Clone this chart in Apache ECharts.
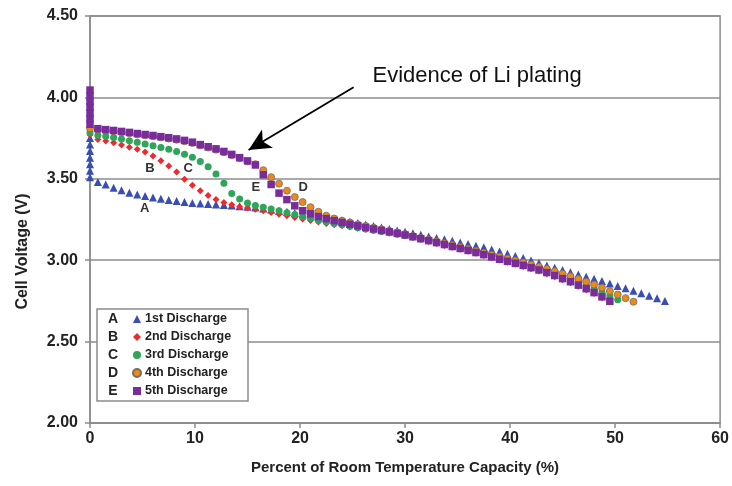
<!DOCTYPE html>
<html><head><meta charset="utf-8">
<script src="https://cdn.jsdelivr.net/npm/echarts@6/dist/echarts.min.js"></script>
<style>html,body{margin:0;padding:0;background:#fff}#c{width:732px;height:486px}</style>
</head><body><div id="c"></div>
<script>
// Shared capacity grid (% of room temperature capacity)
const capacity = [0.75,1.5,2.25,3,3.75,4.5,5.25,6,6.75,7.5,8.25,9,9.75,10.5,11.25,12,12.75,13.5,14.25,15,
  15.75,16.5,17.25,18,18.75,19.5,20.25,21,21.75,22.5,23.25,24,24.75,25.5,26.25,27,27.75,28.5,29.25,30,
  30.75,31.5,32.25,33,33.75,34.5,35.25,36,36.75,37.5,38.25,39,39.75,40.5,41.25,42,42.75,43.5,44.25,45,
  45.75,46.5,47.25,48,48.75,49.5,50.25,51,51.75,52.5,53.25,54,54.75];

// Rest voltages at 0 % capacity
const restA = [3.51,3.55,3.59,3.63,3.67,3.71,3.75];
const restB = [3.77];
const restC = [3.785];
const restD = [3.81];
const restE = [3.835,3.87,3.905,3.94,3.975,4.01,4.045];

// Cell voltage (V) per discharge
const v1st = [3.48,3.465,3.445,3.43,3.415,3.403,3.394,3.385,3.377,3.37,
  3.363,3.357,3.352,3.348,3.345,3.342,3.339,3.336,3.332,3.328,
  3.323,3.317,3.311,3.304,3.297,3.29,3.283,3.276,3.268,3.26,
  3.252,3.244,3.236,3.228,3.219,3.21,3.201,3.192,3.183,3.174,
  3.165,3.156,3.146,3.137,3.128,3.119,3.109,3.099,3.089,3.079,
  3.066,3.053,3.039,3.026,3.013,2.998,2.983,2.968,2.954,2.94,
  2.926,2.912,2.899,2.886,2.872,2.857,2.842,2.828,2.812,2.797,
  2.782,2.766,2.75];
const v2nd = [3.742,3.732,3.721,3.707,3.694,3.681,3.664,3.64,3.611,3.578,
  3.542,3.498,3.46,3.426,3.397,3.373,3.355,3.34,3.329,3.321,
  3.313,3.303,3.293,3.283,3.273,3.263,3.253,3.244,3.235,3.226,
  3.218,3.211,3.204,3.197,3.19,3.183,3.175,3.167,3.159,3.15,
  3.139,3.127,3.115,3.103,3.091,3.079,3.067,3.055,3.042,3.029,
  3.015,3.001,2.988,2.975,2.962,2.948,2.933,2.917,2.899,2.88,
  2.861,2.84,2.818,2.795,2.77,2.745];
const v3rd = [3.767,3.761,3.753,3.744,3.734,3.724,3.714,3.703,3.692,3.681,
  3.668,3.651,3.632,3.607,3.574,3.53,3.472,3.41,3.376,3.352,
  3.336,3.325,3.315,3.304,3.292,3.28,3.268,3.257,3.246,3.236,
  3.226,3.217,3.208,3.2,3.192,3.184,3.176,3.168,3.16,3.152,
  3.142,3.132,3.121,3.11,3.1,3.09,3.079,3.068,3.056,3.044,
  3.031,3.018,3.005,2.993,2.98,2.967,2.953,2.938,2.922,2.905,
  2.887,2.868,2.848,2.827,2.805,2.781,2.757];
const v4th = [3.803,3.797,3.792,3.786,3.78,3.773,3.767,3.761,3.754,3.747,
  3.74,3.731,3.72,3.705,3.692,3.679,3.663,3.645,3.626,3.607,
  3.59,3.553,3.51,3.47,3.427,3.388,3.357,3.326,3.298,3.273,
  3.256,3.243,3.231,3.22,3.21,3.2,3.19,3.18,3.17,3.159,
  3.148,3.137,3.126,3.115,3.104,3.093,3.082,3.07,3.058,3.046,
  3.034,3.022,3.01,2.998,2.986,2.973,2.96,2.946,2.932,2.917,
  2.901,2.885,2.868,2.85,2.831,2.81,2.789,2.767,2.745];
const v5th = [3.808,3.802,3.797,3.791,3.785,3.778,3.772,3.766,3.759,3.752,
  3.745,3.736,3.725,3.71,3.697,3.684,3.668,3.65,3.63,3.61,
  3.585,3.525,3.465,3.412,3.372,3.334,3.304,3.285,3.268,3.255,
  3.243,3.232,3.221,3.211,3.201,3.192,3.183,3.174,3.165,3.155,
  3.144,3.132,3.12,3.108,3.096,3.084,3.072,3.06,3.047,3.034,
  3.02,3.006,2.993,2.981,2.968,2.954,2.94,2.924,2.906,2.887,
  2.868,2.847,2.825,2.801,2.775,2.748];

const seriesNames = ['1st Discharge','2nd Discharge','3rd Discharge','4th Discharge','5th Discharge'];
const seriesLetters = ['A','B','C','D','E'];

// Curve labels in data coordinates
const curveLabels = [
  {t:'A', x:5.2, y:3.315},
  {t:'B', x:5.7, y:3.565},
  {t:'C', x:9.35, y:3.565},
  {t:'E', x:15.8, y:3.445},
  {t:'D', x:20.3, y:3.445}
];
const noteText = 'Evidence of Li plating';
const notePos = [26.9, 4.13];
const arrowFrom = [25.1, 4.062];
const arrowTo = [15.1, 3.677];

const FONT = '"Liberation Sans", Arial, Helvetica, sans-serif';

function build(rest, vals){
  return rest.map(v => [0, v]).concat(vals.map((v,i) => [capacity[i], v]));
}

const chart = echarts.init(document.getElementById('c'), null, {renderer:'canvas'});
const axisGray = '#8c8c8c';
const option = {
  animation:false,
  backgroundColor:'#fff',
  grid:{left:90, right:9, top:16, bottom:63, show:true, borderColor:axisGray, borderWidth:1.5, backgroundColor:'transparent'},
  xAxis:{type:'value', min:0, max:60, interval:10,
    name:'Percent of Room Temperature Capacity (%)', nameLocation:'middle', nameGap:37,
    nameTextStyle:{fontFamily:FONT, fontWeight:'bold', fontSize:15, color:'#222'},
    axisLine:{show:true, lineStyle:{color:axisGray, width:1.5}},
    axisTick:{show:true, length:5, lineStyle:{color:axisGray, width:1.5}},
    axisLabel:{fontFamily:FONT, fontWeight:'bold', fontSize:16, color:'#222', margin:8},
    splitLine:{show:false}},
  yAxis:{type:'value', min:2, max:4.5, interval:0.5,
    name:'Cell Voltage (V)', nameLocation:'middle', nameGap:59,
    nameTextStyle:{fontFamily:FONT, fontWeight:'bold', fontSize:16, color:'#222', padding:[0,64,0,0]},
    axisLine:{show:true, lineStyle:{color:axisGray, width:1.5}},
    axisTick:{show:true, length:5, lineStyle:{color:axisGray, width:1.5}},
    axisLabel:{fontFamily:FONT, fontWeight:'bold', fontSize:16, color:'#222', margin:12,
      formatter: v => v.toFixed(2)},
    splitLine:{show:true, lineStyle:{color:axisGray, width:1.5}}},
  legend:{orient:'vertical', left:132, top:312, padding:0, itemGap:4, itemWidth:8, itemHeight:8,
    data:seriesNames, z:6,
    textStyle:{fontFamily:FONT, fontWeight:'bold', fontSize:12.5, color:'#222', lineHeight:14, padding:[0,0,0,-1]}},
  series:[
    {name:seriesNames[0], type:'scatter', symbol:'triangle', symbolSize:8, z:2,
      itemStyle:{color:'#3a4db3', opacity:1}, data:build(restA, v1st)},
    {name:seriesNames[1], type:'scatter', symbol:'diamond', symbolSize:7, z:3,
      itemStyle:{color:'#ee2a2e', opacity:1}, data:build(restB, v2nd)},
    {name:seriesNames[2], type:'scatter', symbol:'circle', symbolSize:7, z:4,
      itemStyle:{color:'#2ea55b', opacity:1}, data:build(restC, v3rd)},
    {name:seriesNames[3], type:'scatter', symbol:'circle', symbolSize:7, z:5,
      itemStyle:{color:'#e88a1c', borderColor:'#7d6b58', borderWidth:0.8, opacity:1}, data:build(restD, v4th)},
    {name:seriesNames[4], type:'scatter', symbol:'rect', symbolSize:7.5, z:6,
      itemStyle:{color:'#7a2c9b', opacity:1}, data:build(restE, v5th),
      markLine:{silent:true, symbol:['none','arrow'], symbolSize:[16,22],
        lineStyle:{color:'#000', width:1.8, type:'solid', opacity:1}, label:{show:false},
        data:[[{coord:arrowFrom},{coord:arrowTo}]]}}
  ]
};
chart.setOption(option);

// annotations anchored to data coordinates
const g = [];
curveLabels.forEach(l => {
  const p = chart.convertToPixel({gridIndex:0}, [l.x, l.y]);
  g.push({type:'text', x:p[0], y:p[1], z:10,
    style:{text:l.t, fontFamily:FONT, fontWeight:'bold', fontSize:13, fill:'#333',
      align:'center', verticalAlign:'middle', textAlign:'center', textVerticalAlign:'middle'}});
});
const np = chart.convertToPixel({gridIndex:0}, notePos);
g.push({type:'text', x:np[0], y:np[1], z:10,
  style:{text:noteText, fontFamily:FONT, fontSize:22, fill:'#111',
    align:'left', verticalAlign:'middle', textAlign:'left', textVerticalAlign:'middle'}});
// legend box + letters
g.push({type:'rect', z:5, shape:{x:97, y:309, width:151, height:92},
  style:{fill:'#fff', stroke:axisGray, lineWidth:1.5}});
seriesLetters.forEach((t,i) => {
  g.push({type:'text', x:113, y:319 + i*18, z:10,
    style:{text:t, fontFamily:FONT, fontWeight:'bold', fontSize:14, fill:'#222',
      align:'center', verticalAlign:'middle', textAlign:'center', textVerticalAlign:'middle'}});
});
chart.setOption({graphic:g});
</script>
</body></html>
